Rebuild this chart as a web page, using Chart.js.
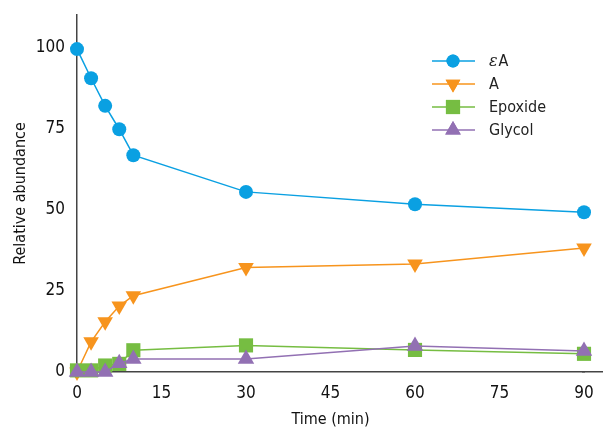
<!DOCTYPE html>
<html><head><meta charset="utf-8">
<script src="https://cdn.jsdelivr.net/npm/chart.js@4.4.0/dist/chart.umd.min.js"></script>
<style>html,body{margin:0;padding:0;background:#fff}#wrap{width:603px;height:429px}</style>
</head><body><div id="wrap"><canvas id="c" width="603" height="429"></canvas></div>
<script>
const times = [0, 2.5, 5, 7.5, 10, 30, 60, 90];
const eA = [99.5, 90.5, 82, 74.8, 66.8, 55.5, 51.7, 49.2];
const A = [0, 9.3, 15.5, 20.3, 23.5, 32.2, 33.3, 38.2];
const epoxide = [0.5, 0.5, 2, 2.5, 6.7, 8.2, 6.8, 5.6];
const glycol = [0, 0, 0, 2.7, 4, 4, 8, 6.5];
const xTicks = [0, 15, 30, 45, 60, 75, 90];
const yTicks = [0, 25, 50, 75, 100];
const seriesNames = ['εA', 'A', 'Epoxide', 'Glycol'];

const FONT = "'Liberation Sans Narrow', 'DejaVu Sans Condensed', 'Arial Narrow', sans-serif";
const colors = ['#0aa0e2', '#f7941d', '#76bd42', '#9270b3'];
const styles = [
  {pointStyle:'circle', radius:7, rot:0},
  {pointStyle:'triangle', radius:9, rot:180},
  {pointStyle:'rect', radius:10, rot:0},
  {pointStyle:'triangle', radius:9.5, rot:0}
];
const values = [eA, A, epoxide, glycol];

function mk(i){
  return {
    label: seriesNames[i],
    data: times.map((t,k)=>({x:t,y:values[i][k]})),
    borderColor: colors[i], backgroundColor: colors[i],
    borderWidth: 1.5, pointStyle: styles[i].pointStyle,
    pointRadius: styles[i].radius, pointHoverRadius: styles[i].radius,
    pointRotation: styles[i].rot, pointBorderWidth: 0,
    order: 3 - i, clip: false, tension: 0
  };
}

const axisExt = {
  id:'axisExt',
  afterDraw(chart){
    const ctx = chart.ctx, a = chart.chartArea;
    const y = Math.round(a.bottom - 0.75) + 0.75;
    ctx.save();
    ctx.strokeStyle = '#444'; ctx.lineWidth = 1.5;
    ctx.beginPath(); ctx.moveTo(a.right - 2, y); ctx.lineTo(chart.width, y); ctx.stroke();
    ctx.restore();
  }
};

const legendPlugin = {
  id:'customLegend',
  afterDraw(chart){
    const ctx = chart.ctx;
    const x0 = 432, x1 = 475, xm = 453, xt = 489;
    const ys = [61, 84, 107, 130];
    const lr = [6.5, 8.5, 10, 9];
    ctx.save();
    for (let i=0;i<4;i++){
      const y = ys[i];
      ctx.strokeStyle = colors[i]; ctx.lineWidth = 1.5;
      ctx.beginPath(); ctx.moveTo(x0,y); ctx.lineTo(x1,y); ctx.stroke();
      ctx.fillStyle = colors[i];
      Chart.helpers.drawPoint(ctx, {pointStyle: styles[i].pointStyle, radius: lr[i], rotation: styles[i].rot, borderWidth:0}, xm, y);
      ctx.fill();
      ctx.fillStyle = '#222'; ctx.textBaseline = 'middle'; ctx.textAlign='left';
      if (i===0){
        ctx.font = "italic 16px 'DejaVu Serif', serif";
        ctx.fillText('ε', xt, y+1);
        const w = ctx.measureText('ε').width;
        ctx.font = "16px " + FONT;
        ctx.fillText('A', xt + w + 1, y+1);
      } else {
        ctx.font = "16px " + FONT;
        ctx.fillText(seriesNames[i], xt, y+1);
      }
    }
    ctx.restore();
  }
};

new Chart(document.getElementById('c'), {
  type:'line',
  data:{datasets:[mk(0),mk(1),mk(2),mk(3)]},
  plugins:[legendPlugin, axisExt],
  options:{
    responsive:false, animation:false, devicePixelRatio:1,
    layout:{padding:{top:15,right:19,left:0,bottom:0}},
    plugins:{legend:{display:false}, tooltip:{enabled:false}},
    scales:{
      x:{
        type:'linear', min:0, max:90,
        afterBuildTicks(s){ s.ticks = xTicks.map(v=>({value:v})); },
        afterFit(s){ s.height = 57; s.paddingLeft = 0; s.paddingRight = 0; },
        grid:{display:false, drawOnChartArea:false, drawTicks:true, tickLength:7, color:'#444', tickWidth:1.2},
        border:{display:true, color:'#444', width:1.5},
        ticks:{color:'#111', font:{family:FONT, size:17}, padding:4, maxRotation:0},
        title:{display:true, text:'Time (min)', color:'#111', font:{family:FONT, size:16}, padding:{top:5,bottom:0}}
      },
      y:{
        type:'linear', min:0, max:110,
        afterBuildTicks(s){ s.ticks = yTicks.map(v=>({value:v})); },
        afterFit(s){ s.width = 77; s.paddingTop = 0; s.paddingBottom = 0; },
        grid:{display:false, drawOnChartArea:false, drawTicks:true, tickLength:7, color:'#444', tickWidth:1.2},
        border:{display:true, color:'#444', width:1.5},
        ticks:{color:'#111', font:{family:FONT, size:17}, padding:5},
        title:{display:true, text:'Relative abundance', color:'#111', font:{family:FONT, size:16}, padding:{top:11,bottom:4}}
      }
    }
  }
});
</script></body></html>
